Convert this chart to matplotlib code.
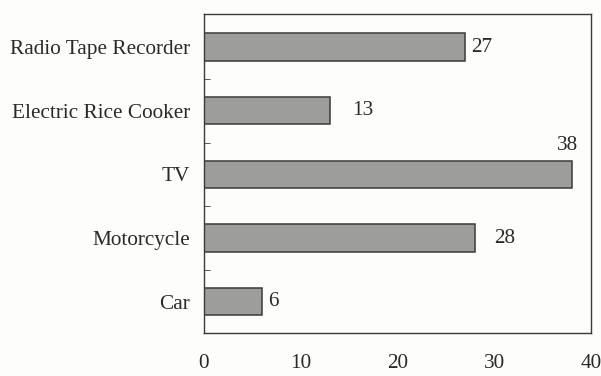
import matplotlib
matplotlib.use("Agg")
import matplotlib.pyplot as plt

categories = ["Car", "Motorcycle", "TV", "Electric Rice Cooker", "Radio Tape Recorder"]
values = [6, 28, 38, 13, 27]
x_ticks = [0, 10, 20, 30, 40]

plt.rcParams["font.family"] = ["Liberation Serif", "DejaVu Serif"]
FS = 15.3
TXT = "#2a2a2a"

fig = plt.figure(figsize=(6.01, 3.76), dpi=100)
fig.patch.set_facecolor("#fdfdfb")
ax = fig.add_axes([204 / 601, 1 - 333 / 376, (591 - 204) / 601, (333 - 14) / 376])
ax.set_facecolor("#fdfdfb")

ypos = list(range(len(categories)))
ax.barh(ypos, values, height=0.43, color="#9d9e9a", edgecolor="#3a3a3a", linewidth=1.1)

ax.set_xlim(0, 40)
ax.set_ylim(-0.49, 4.52)
ax.set_yticks(ypos)
ax.set_yticklabels(categories, fontsize=FS, color=TXT)
ax.set_xticks(x_ticks)
ax.set_xticklabels([str(t) for t in x_ticks], fontsize=FS, color=TXT)
ax.tick_params(axis="x", length=0, pad=15)
ax.tick_params(axis="y", length=0, pad=10)

# small dividers between categories on the left spine
ax.set_yticks([y + 0.5 for y in ypos[:-1]], minor=True)
ax.tick_params(axis="y", which="minor", length=4, direction="in", color="#3a3a3a")

for s in ax.spines.values():
    s.set_color("#3a3a3a")
    s.set_linewidth(1.0)

# value labels
offsets = {6: (0.6, 0.0), 28: (2.0, 0.0), 38: (-0.4, 0.45), 13: (2.3, 0.0), 27: (0.6, 0.0)}
for y, v in zip(ypos, values):
    dx, dy = offsets[v]
    if dy:
        ax.text(v + dx, y + dy, str(v), ha="center", va="center", fontsize=FS, color=TXT)
    else:
        ax.text(v + dx, y, str(v), ha="left", va="center", fontsize=FS, color=TXT)

fig.savefig("out.png", dpi=100, facecolor=fig.get_facecolor())
